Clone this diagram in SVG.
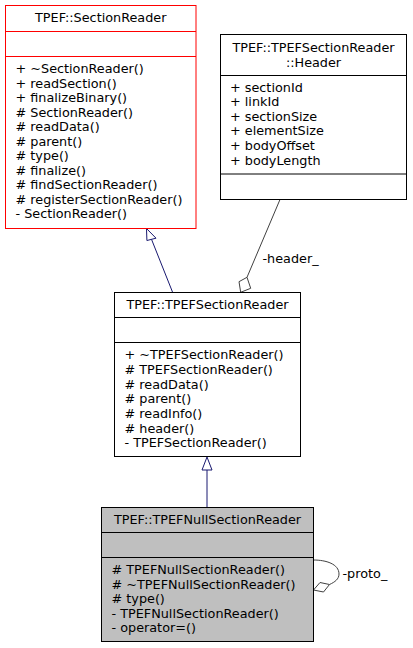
<svg xmlns="http://www.w3.org/2000/svg" width="413" height="648" viewBox="0 0 413 648">
<style>
text{font-family:"DejaVu Sans",sans-serif;font-size:12.8px;fill:#000}
.t{text-anchor:middle}
.box{fill:#fff;stroke:#000;stroke-width:1}
.red{fill:#fff;stroke:#ff0000;stroke-width:1}
.gray{fill:#bfbfbf;stroke:#000;stroke-width:1}
.sep{stroke:#000;stroke-width:1}
.sepr{stroke:#ff0000;stroke-width:1}
.inh{stroke:#191970;stroke-width:1;fill:none}
.inhh{stroke:#191970;stroke-width:1;fill:#fff}
.agg{stroke:#404040;stroke-width:1;fill:none}
.aggh{stroke:#404040;stroke-width:1;fill:#fff}
</style>
<rect width="413" height="648" fill="#fff"/>
<g id="connectors">
<path class="inh" d="M172.7,292.5 L151.5,239.3"/>
<polygon class="inhh" points="146.5,228.5 156,238.2 146.9,240.5"/>
<path class="inh" d="M207,507.5 L207,470"/>
<polygon class="inhh" points="207,457 212,470 202,470"/>
<path class="agg" d="M280,199.5 L247,277.3"/>
<polygon class="aggh" points="247,277.3 250.7,288.3 240.7,292.3 239,281.7"/>
<text x="262.5" y="263">-header_</text>
<path class="agg" d="M313.5,560 C326,560 339,564 339,574 C339,579 335,582 329.5,584.5"/>
<polygon class="aggh" points="313.5,590 320,582.5 329.5,584.5 323.5,592"/>
<text x="342.5" y="577.5">-proto_</text>
</g>
<g id="node-SectionReader">
<rect class="red" x="5.5" y="5.5" width="190.5" height="223"/>
<line class="sepr" x1="5.5" y1="31.5" x2="196" y2="31.5"/>
<line class="sepr" x1="5.5" y1="56.5" x2="196" y2="56.5"/>
<text class="t" x="100.75" y="22">TPEF::SectionReader</text>
<text x="15.5" y="73">+ ~SectionReader()</text>
<text x="15.5" y="87.5">+ readSection()</text>
<text x="15.5" y="102">+ finalizeBinary()</text>
<text x="15.5" y="116.5">#  SectionReader()</text>
<text x="15.5" y="131">#  readData()</text>
<text x="15.5" y="145.5">#  parent()</text>
<text x="15.5" y="160">#  type()</text>
<text x="15.5" y="174.5">#  finalize()</text>
<text x="15.5" y="189">#  findSectionReader()</text>
<text x="15.5" y="203.5">#  registerSectionReader()</text>
<text x="15.5" y="218">- SectionReader()</text>
</g>
<g id="node-Header">
<rect class="box" x="220.5" y="34.5" width="186" height="165"/>
<line class="sep" x1="220.5" y1="75.5" x2="406.5" y2="75.5"/>
<line class="sep" x1="220.5" y1="174" x2="406.5" y2="174"/>
<text class="t" x="313.5" y="51.5">TPEF::TPEFSectionReader</text>
<text class="t" x="313.5" y="66.5">::Header</text>
<text x="230" y="91.5">+ sectionId</text>
<text x="230" y="106">+ linkId</text>
<text x="230" y="120.7">+ sectionSize</text>
<text x="230" y="135.3">+ elementSize</text>
<text x="230" y="150">+ bodyOffset</text>
<text x="230" y="164.6">+ bodyLength</text>
</g>
<g id="node-TPEFSectionReader">
<rect class="box" x="114.5" y="292.5" width="186" height="164"/>
<line class="sep" x1="114.5" y1="317.5" x2="300.5" y2="317.5"/>
<line class="sep" x1="114.5" y1="342.5" x2="300.5" y2="342.5"/>
<text class="t" x="207.5" y="309">TPEF::TPEFSectionReader</text>
<text x="124.5" y="359.4">+ ~TPEFSectionReader()</text>
<text x="124.5" y="374">#  TPEFSectionReader()</text>
<text x="124.5" y="388.7">#  readData()</text>
<text x="124.5" y="403.4">#  parent()</text>
<text x="124.5" y="418">#  readInfo()</text>
<text x="124.5" y="432.7">#  header()</text>
<text x="124.5" y="447.4">- TPEFSectionReader()</text>
</g>
<g id="node-TPEFNullSectionReader">
<rect class="gray" x="101.5" y="507.5" width="212" height="134"/>
<line class="sep" x1="101.5" y1="532.5" x2="313.5" y2="532.5"/>
<line class="sep" x1="101.5" y1="557.5" x2="313.5" y2="557.5"/>
<text class="t" x="207.5" y="523.7">TPEF::TPEFNullSectionReader</text>
<text x="111.5" y="574">#  TPEFNullSectionReader()</text>
<text x="111.5" y="588.6">#  ~TPEFNullSectionReader()</text>
<text x="111.5" y="603.2">#  type()</text>
<text x="111.5" y="617.8">- TPEFNullSectionReader()</text>
<text x="111.5" y="632.4">- operator=()</text>
</g>
</svg>
